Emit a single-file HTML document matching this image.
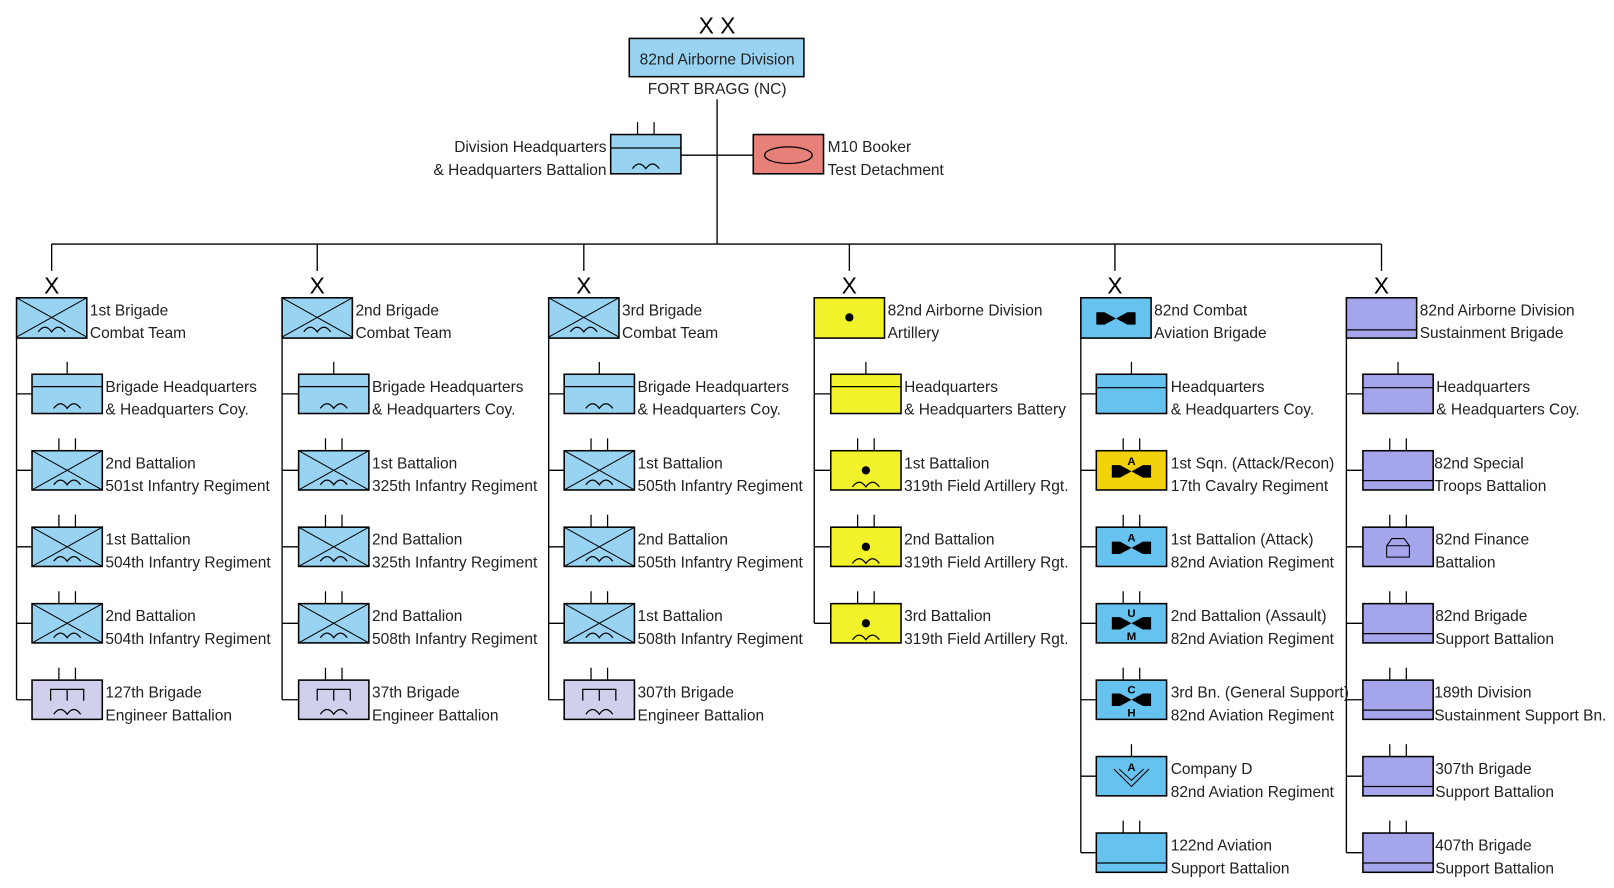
<!DOCTYPE html>
<html><head><meta charset="utf-8"><style>
html,body{margin:0;padding:0;background:#fff;}
svg{display:block;}
text{font-family:"Liberation Sans",Arial,sans-serif;font-size:15px;fill:#222;}
.x{font-size:22px;fill:#000;}
</style></head><body>
<svg width="1614" height="888" viewBox="0 0 1562 859" xmlns="http://www.w3.org/2000/svg">
<defs>
<path id="arc" d="M21 33 q6.5 -9 13 0 q6.5 -9 13 0" fill="none" stroke="#000" stroke-width="1.2"/>
<g id="cross"><line x1="0" y1="0" x2="68" y2="38" stroke="#000" stroke-width="1"/><line x1="68" y1="0" x2="0" y2="38" stroke="#000" stroke-width="1"/></g>
<g id="t1"><line x1="34" y1="-12" x2="34" y2="0" stroke="#000" stroke-width="1.2"/></g>
<g id="t2"><line x1="26" y1="-12" x2="26" y2="0" stroke="#000" stroke-width="1.2"/><line x1="42" y1="-12" x2="42" y2="0" stroke="#000" stroke-width="1.2"/></g>
<polygon id="bow" points="-19,-6 -11,-6 0,0 11,-6 19,-6 19,6 11,6 0,0 -11,6 -19,6" fill="#000"/>
<g id="inf"><rect x="0" y="0" width="68" height="38" fill="#99d3f2" stroke="#000" stroke-width="1.5"/><use href="#cross"/><use href="#arc"/><use href="#t2"/></g>
<g id="hqinf"><rect x="0" y="0" width="68" height="38" fill="#99d3f2" stroke="#000" stroke-width="1.5"/><line x1="0" y1="12" x2="68" y2="12" stroke="#000" stroke-width="1.2"/><use href="#arc"/><use href="#t1"/></g>
<g id="eng"><rect x="0" y="0" width="68" height="38" fill="#d0d0ec" stroke="#000" stroke-width="1.5"/><path d="M18 20 V9 H50 V20 M34 9 V20" fill="none" stroke="#000" stroke-width="1.2"/><use href="#arc"/><use href="#t2"/></g>
<g id="art"><rect x="0" y="0" width="68" height="38" fill="#f2f22a" stroke="#000" stroke-width="1.5"/><circle cx="34" cy="19" r="4" fill="#000"/><use href="#arc" transform="translate(0,2)"/><use href="#t2"/></g>
<g id="sus"><rect x="0" y="0" width="68" height="38" fill="#a5a5ec" stroke="#000" stroke-width="1.5"/><line x1="0" y1="29" x2="68" y2="29" stroke="#000" stroke-width="1.2"/><use href="#t2"/></g>
</defs>

<text class="x" x="694" y="32" text-anchor="middle">X X</text>
<rect x="609" y="37" width="169" height="37" fill="#99d3f2" stroke="#000" stroke-width="1.5"/>
<text x="694" y="62" text-anchor="middle">82nd Airborne Division</text>
<text x="694" y="91" text-anchor="middle">FORT BRAGG (NC)</text>
<g stroke="#000" stroke-width="1.3" fill="none">
<line x1="694" y1="96" x2="694" y2="236"/>
<line x1="659" y1="150" x2="729" y2="150"/>
<line x1="50" y1="236" x2="1337" y2="236"/>
<line x1="50" y1="236" x2="50" y2="262"/>
<line x1="307" y1="236" x2="307" y2="262"/>
<line x1="565" y1="236" x2="565" y2="262"/>
<line x1="822" y1="236" x2="822" y2="262"/>
<line x1="1079" y1="236" x2="1079" y2="262"/>
<line x1="1337" y1="236" x2="1337" y2="262"/>
<line x1="16" y1="327" x2="16" y2="677"/>
<line x1="273" y1="327" x2="273" y2="677"/>
<line x1="531" y1="327" x2="531" y2="677"/>
<line x1="788" y1="327" x2="788" y2="603"/>
<line x1="1046" y1="327" x2="1046" y2="825"/>
<line x1="1303" y1="327" x2="1303" y2="825"/>
<path d="M16 381h15M16 455h15M16 529h15M16 603h15M16 677h15"/>
<path d="M273 381h16M273 455h16M273 529h16M273 603h16M273 677h16"/>
<path d="M531 381h15M531 455h15M531 529h15M531 603h15M531 677h15"/>
<path d="M788 381h16M788 455h16M788 529h16M788 603h16"/>
<path d="M1046 381h15M1046 455h15M1046 529h15M1046 603h15M1046 677h15M1046 751h15M1046 825h15"/>
<path d="M1303 381h16M1303 455h16M1303 529h16M1303 603h16M1303 677h16M1303 751h16M1303 825h16"/>
</g>

<g transform="translate(591,130)"><rect x="0" y="0" width="68" height="38" fill="#99d3f2" stroke="#000" stroke-width="1.5"/><line x1="0" y1="13" x2="68" y2="13" stroke="#000" stroke-width="1.2"/><use href="#arc"/><use href="#t2"/></g>
<text x="587" y="147" text-anchor="end">Division Headquarters</text>
<text x="587" y="169" text-anchor="end">&amp; Headquarters Battalion</text>
<rect x="729" y="130" width="68" height="38" fill="#e8807a" stroke="#000" stroke-width="1.5"/>
<ellipse cx="763" cy="150" rx="23" ry="8" fill="none" stroke="#000" stroke-width="1.2"/>
<text x="801" y="147">M10 Booker</text>
<text x="801" y="169">Test Detachment</text>

<text class="x" x="50" y="284" text-anchor="middle">X</text>
<text class="x" x="307" y="284" text-anchor="middle">X</text>
<text class="x" x="565" y="284" text-anchor="middle">X</text>
<text class="x" x="822" y="284" text-anchor="middle">X</text>
<text class="x" x="1079" y="284" text-anchor="middle">X</text>
<text class="x" x="1337" y="284" text-anchor="middle">X</text>

<g transform="translate(16,288)"><rect width="68" height="39" fill="#99d3f2" stroke="#000" stroke-width="1.5"/><use href="#cross"/><use href="#arc"/></g>
<text x="87" y="305">1st Brigade</text><text x="87" y="327">Combat Team</text>
<g transform="translate(273,288)"><rect width="68" height="39" fill="#99d3f2" stroke="#000" stroke-width="1.5"/><use href="#cross"/><use href="#arc"/></g>
<text x="344" y="305">2nd Brigade</text><text x="344" y="327">Combat Team</text>
<g transform="translate(531,288)"><rect width="68" height="39" fill="#99d3f2" stroke="#000" stroke-width="1.5"/><use href="#cross"/><use href="#arc"/></g>
<text x="602" y="305">3rd Brigade</text><text x="602" y="327">Combat Team</text>
<g transform="translate(788,288)"><rect width="68" height="39" fill="#f2f22a" stroke="#000" stroke-width="1.5"/><circle cx="34" cy="19" r="4" fill="#000"/></g>
<text x="859" y="305">82nd Airborne Division</text><text x="859" y="327">Artillery</text>
<g transform="translate(1046,288)"><rect width="68" height="39" fill="#66c3f0" stroke="#000" stroke-width="1.5"/><use href="#bow" transform="translate(34,20)"/></g>
<text x="1117" y="305">82nd Combat</text><text x="1117" y="327">Aviation Brigade</text>
<g transform="translate(1303,288)"><rect width="68" height="39" fill="#a5a5ec" stroke="#000" stroke-width="1.5"/><line x1="0" y1="31" x2="68" y2="31" stroke="#000" stroke-width="1.2"/></g>
<text x="1374" y="305">82nd Airborne Division</text><text x="1374" y="327">Sustainment Brigade</text>

<use href="#hqinf" x="31" y="362"/><text x="102" y="379">Brigade Headquarters</text><text x="102" y="401">&amp; Headquarters Coy.</text>
<use href="#inf" x="31" y="436"/><text x="102" y="453">2nd Battalion</text><text x="102" y="475">501st Infantry Regiment</text>
<use href="#inf" x="31" y="510"/><text x="102" y="527">1st Battalion</text><text x="102" y="549">504th Infantry Regiment</text>
<use href="#inf" x="31" y="584"/><text x="102" y="601">2nd Battalion</text><text x="102" y="623">504th Infantry Regiment</text>
<use href="#eng" x="31" y="658"/><text x="102" y="675">127th Brigade</text><text x="102" y="697">Engineer Battalion</text>

<use href="#hqinf" x="289" y="362"/><text x="360" y="379">Brigade Headquarters</text><text x="360" y="401">&amp; Headquarters Coy.</text>
<use href="#inf" x="289" y="436"/><text x="360" y="453">1st Battalion</text><text x="360" y="475">325th Infantry Regiment</text>
<use href="#inf" x="289" y="510"/><text x="360" y="527">2nd Battalion</text><text x="360" y="549">325th Infantry Regiment</text>
<use href="#inf" x="289" y="584"/><text x="360" y="601">2nd Battalion</text><text x="360" y="623">508th Infantry Regiment</text>
<use href="#eng" x="289" y="658"/><text x="360" y="675">37th Brigade</text><text x="360" y="697">Engineer Battalion</text>

<use href="#hqinf" x="546" y="362"/><text x="617" y="379">Brigade Headquarters</text><text x="617" y="401">&amp; Headquarters Coy.</text>
<use href="#inf" x="546" y="436"/><text x="617" y="453">1st Battalion</text><text x="617" y="475">505th Infantry Regiment</text>
<use href="#inf" x="546" y="510"/><text x="617" y="527">2nd Battalion</text><text x="617" y="549">505th Infantry Regiment</text>
<use href="#inf" x="546" y="584"/><text x="617" y="601">1st Battalion</text><text x="617" y="623">508th Infantry Regiment</text>
<use href="#eng" x="546" y="658"/><text x="617" y="675">307th Brigade</text><text x="617" y="697">Engineer Battalion</text>

<g transform="translate(804,362)"><rect width="68" height="38" fill="#f2f22a" stroke="#000" stroke-width="1.5"/><line x1="0" y1="12" x2="68" y2="12" stroke="#000" stroke-width="1.2"/><use href="#t1"/></g>
<text x="875" y="379">Headquarters</text><text x="875" y="401">&amp; Headquarters Battery</text>
<use href="#art" x="804" y="436"/><text x="875" y="453">1st Battalion</text><text x="875" y="475">319th Field Artillery Rgt.</text>
<use href="#art" x="804" y="510"/><text x="875" y="527">2nd Battalion</text><text x="875" y="549">319th Field Artillery Rgt.</text>
<use href="#art" x="804" y="584"/><text x="875" y="601">3rd Battalion</text><text x="875" y="623">319th Field Artillery Rgt.</text>

<g transform="translate(1061,362)"><rect width="68" height="38" fill="#66c3f0" stroke="#000" stroke-width="1.5"/><line x1="0" y1="13" x2="68" y2="13" stroke="#000" stroke-width="1.2"/><use href="#t1"/></g>
<text x="1133" y="379">Headquarters</text><text x="1133" y="401">&amp; Headquarters Coy.</text>
<g transform="translate(1061,436)"><rect width="68" height="38" fill="#f2d20a" stroke="#000" stroke-width="1.5"/><use href="#bow" transform="translate(34,20)"/><text x="34" y="14" text-anchor="middle" style="font-size:11px;font-weight:bold;fill:#000">A</text><use href="#t2"/></g>
<text x="1133" y="453">1st Sqn. (Attack/Recon)</text><text x="1133" y="475">17th Cavalry Regiment</text>
<g transform="translate(1061,510)"><rect width="68" height="38" fill="#66c3f0" stroke="#000" stroke-width="1.5"/><use href="#bow" transform="translate(34,20)"/><text x="34" y="14" text-anchor="middle" style="font-size:11px;font-weight:bold;fill:#000">A</text><use href="#t2"/></g>
<text x="1133" y="527">1st Battalion (Attack)</text><text x="1133" y="549">82nd Aviation Regiment</text>
<g transform="translate(1061,584)"><rect width="68" height="38" fill="#66c3f0" stroke="#000" stroke-width="1.5"/><use href="#bow" transform="translate(34,19)"/><text x="34" y="13" text-anchor="middle" style="font-size:11px;font-weight:bold;fill:#000">U</text><text x="34" y="35" text-anchor="middle" style="font-size:11px;font-weight:bold;fill:#000">M</text><use href="#t2"/></g>
<text x="1133" y="601">2nd Battalion (Assault)</text><text x="1133" y="623">82nd Aviation Regiment</text>
<g transform="translate(1061,658)"><rect width="68" height="38" fill="#66c3f0" stroke="#000" stroke-width="1.5"/><use href="#bow" transform="translate(34,19)"/><text x="34" y="13" text-anchor="middle" style="font-size:11px;font-weight:bold;fill:#000">C</text><text x="34" y="35" text-anchor="middle" style="font-size:11px;font-weight:bold;fill:#000">H</text><use href="#t2"/></g>
<text x="1133" y="675">3rd Bn. (General Support)</text><text x="1133" y="697">82nd Aviation Regiment</text>
<g transform="translate(1061,732)"><rect width="68" height="38" fill="#66c3f0" stroke="#000" stroke-width="1.5"/><path d="M17 12 L34 29 L51 12 M22 12 L34 23 L46 12" fill="none" stroke="#000" stroke-width="1"/><text x="34" y="14" text-anchor="middle" style="font-size:11px;font-weight:bold;fill:#000">A</text><use href="#t1"/></g>
<text x="1133" y="749">Company D</text><text x="1133" y="771">82nd Aviation Regiment</text>
<g transform="translate(1061,806)"><rect width="68" height="38" fill="#66c3f0" stroke="#000" stroke-width="1.5"/><line x1="0" y1="29" x2="68" y2="29" stroke="#000" stroke-width="1.2"/><use href="#t2"/></g>
<text x="1133" y="823">122nd Aviation</text><text x="1133" y="845">Support Battalion</text>

<g transform="translate(1319,362)"><rect width="68" height="38" fill="#a5a5ec" stroke="#000" stroke-width="1.5"/><line x1="0" y1="13" x2="68" y2="13" stroke="#000" stroke-width="1.2"/><use href="#t1"/></g>
<text x="1390" y="379">Headquarters</text><text x="1390" y="401">&amp; Headquarters Coy.</text>
<use href="#sus" x="1319" y="436"/><text x="1388" y="453">82nd Special</text><text x="1388" y="475">Troops Battalion</text>
<g transform="translate(1319,510)"><rect width="68" height="38" fill="#a5a5ec" stroke="#000" stroke-width="1.5"/><path d="M23 29 V18 L28 11 H40 L45 18 V29 Z M23 18 H45" fill="none" stroke="#000" stroke-width="1"/><use href="#t2"/></g>
<text x="1389" y="527">82nd Finance</text><text x="1389" y="549">Battalion</text>
<use href="#sus" x="1319" y="584"/><text x="1389" y="601">82nd Brigade</text><text x="1389" y="623">Support Battalion</text>
<use href="#sus" x="1319" y="658"/><text x="1388" y="675">189th Division</text><text x="1388" y="697">Sustainment Support Bn.</text>
<use href="#sus" x="1319" y="732"/><text x="1389" y="749">307th Brigade</text><text x="1389" y="771">Support Battalion</text>
<use href="#sus" x="1319" y="806"/><text x="1389" y="823">407th Brigade</text><text x="1389" y="845">Support Battalion</text>
</svg>
</body></html>
